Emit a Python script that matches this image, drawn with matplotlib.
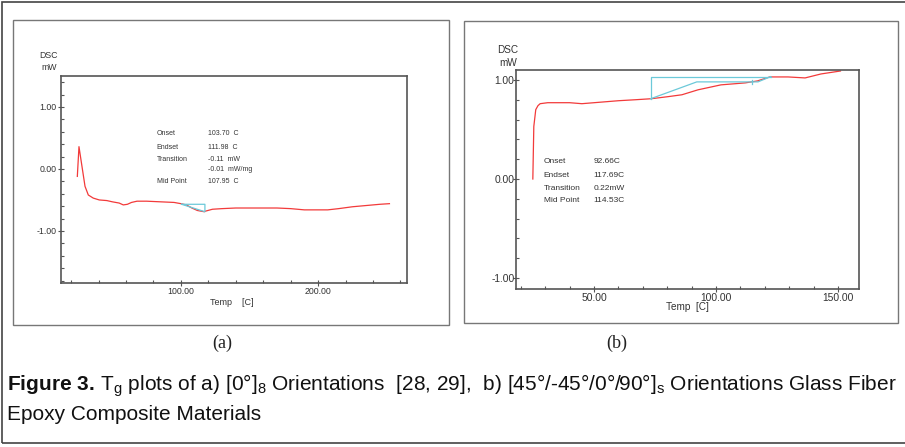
import matplotlib
matplotlib.use("Agg")
import matplotlib.pyplot as plt
from matplotlib import font_manager
from matplotlib.patches import Rectangle
from matplotlib.ticker import MultipleLocator, FixedLocator

# ---- data ----
# (a) [0]8 orientation
a_temp = [24.5, 25.7, 27.9, 30.1, 32.5, 36.1, 40.5, 46, 50, 55, 58, 61, 64, 68, 75, 85, 95,
          100, 104, 108, 112, 117, 118, 123, 130, 140, 150, 160, 170, 180, 190, 200, 207,
          215, 225, 235, 245, 252]
a_dsc = [-0.12, 0.36, 0.04, -0.28, -0.42, -0.47, -0.50, -0.51, -0.53, -0.55, -0.58, -0.57,
         -0.54, -0.52, -0.52, -0.53, -0.54, -0.56, -0.58, -0.63, -0.67, -0.69, -0.68, -0.65,
         -0.64, -0.63, -0.63, -0.63, -0.63, -0.64, -0.66, -0.66, -0.66, -0.64, -0.61, -0.59,
         -0.57, -0.56]
a_tan_temp = [100.5, 117.5, 117.5, 100.5]
a_tan_dsc = [-0.57, -0.57, -0.69, -0.57]
a_labels = ["Onset", "Endset", "Transition", "", "Mid Point"]
a_values = ["103.70  C", "111.98  C", "-0.11  mW", "-0.01  mW/mg", "107.95  C"]

# (b) [45/-45/0/90]s orientation
b_temp = [24.9, 25.3, 26.1, 27.0, 27.9, 31, 40, 45, 50, 60, 67, 73.4, 80, 86, 92.6, 102,
          112, 117, 122, 129.5, 136.5, 143, 151]
b_dsc = [0.0, 0.53, 0.70, 0.74, 0.76, 0.77, 0.77, 0.76, 0.77, 0.79, 0.80, 0.81, 0.83, 0.85,
         0.90, 0.95, 0.97, 0.99, 1.03, 1.03, 1.02, 1.06, 1.09]
b_box_temp = [73.2, 73.2, 122.4]
b_box_dsc = [0.81, 1.033, 1.033]
b_tan_temp = [73.2, 92.1, 117.2, 122.4]
b_tan_dsc = [0.81, 0.98, 0.98, 1.033]
b_mid_temp = [114.6, 114.6]
b_mid_dsc = [0.96, 1.0]
b_labels = ["Onset", "Endset", "Transition", "Mid Point"]
b_values = ["92.66C", "117.69C", "0.22mW", "114.53C"]

W, H = 905, 447
names = {f.name for f in font_manager.fontManager.ttflist}
cap_font = "Liberation Sans Narrow" if "Liberation Sans Narrow" in names else "Liberation Sans"

plt.rcParams["font.family"] = ["Liberation Sans", "DejaVu Sans"]
plt.rcParams["mathtext.fontset"] = "custom"
plt.rcParams["mathtext.rm"] = cap_font
plt.rcParams["mathtext.it"] = cap_font + ":italic"
plt.rcParams["mathtext.bf"] = cap_font + ":bold"

fig = plt.figure(figsize=(W / 100, H / 100), dpi=100)


def fx(x):
    return x / W


def fy(y):
    return 1 - y / H


def box(x0, y0, x1, y1, color, lw):
    fig.add_artist(Rectangle((fx(x0), fy(y1)), (x1 - x0) / W, (y1 - y0) / H, fill=False,
                             transform=fig.transFigure, ec=color, lw=lw))


box(2, 2, 912, 443, "#444444", 1.2)
box(13, 20, 449, 325, "#777777", 1.0)
box(464, 21, 898, 323, "#777777", 1.0)

RED = "#f23a3a"
CYAN = "#6cc9d9"
GRAY = "#555555"
TXT = "#333333"


def style_axes(ax, fs):
    for s in ax.spines.values():
        s.set_color(GRAY)
        s.set_linewidth(1.2)
    ax.tick_params(which="major", direction="inout", length=4, width=0.8, color=GRAY,
                   labelsize=fs, labelcolor=TXT, pad=1)
    ax.tick_params(which="minor", direction="in", length=2.5, width=0.8, color=GRAY)


# ---- panel (a) ----
axa = fig.add_axes([fx(61), fy(283), 346 / W, 207 / H])
axa.plot(a_temp, a_dsc, color=RED, lw=0.9)
axa.plot(a_tan_temp, a_tan_dsc, color=CYAN, lw=0.9)
axa.set_xlim(12.6, 264.8)
axa.set_ylim(-1.84, 1.5)
axa.xaxis.set_major_locator(FixedLocator([100, 200]))
axa.xaxis.set_minor_locator(MultipleLocator(20))
axa.yaxis.set_major_locator(FixedLocator([-1, 0, 1]))
axa.yaxis.set_minor_locator(MultipleLocator(0.2))
axa.xaxis.set_major_formatter(lambda v, p: f"{v:.2f}")
axa.yaxis.set_major_formatter(lambda v, p: f"{v:.2f}")
style_axes(axa, 6.3)
axa.text(-0.035, 1.097, "DSC", transform=axa.transAxes, ha="center", va="center",
         fontsize=6.3, color=TXT)
axa.text(-0.035, 1.039, "mW", transform=axa.transAxes, ha="center", va="center",
         fontsize=6.3, color=TXT)
axa.text(0.494, -0.092, "Temp    [C]", transform=axa.transAxes, ha="center", va="center",
         fontsize=6.5, color=TXT)
for i, (lab, val) in enumerate(zip(a_labels, a_values)):
    yy = [0.72, 0.657, 0.599, 0.546, 0.488][i]
    axa.text(0.277, yy, lab, transform=axa.transAxes, va="center", fontsize=5, color=TXT)
    axa.text(0.425, yy, val, transform=axa.transAxes, va="center", fontsize=5, color=TXT)

# ---- panel (b) ----
axb = fig.add_axes([fx(516), fy(289), 343 / W, 219 / H])
axb.plot(b_temp, b_dsc, color=RED, lw=0.9)
axb.plot(b_box_temp, b_box_dsc, color=CYAN, lw=0.9)
axb.plot(b_tan_temp, b_tan_dsc, color=CYAN, lw=0.9)
axb.plot(b_mid_temp, b_mid_dsc, color=CYAN, lw=0.9)
axb.set_xlim(18, 158.6)
axb.set_ylim(-1.11, 1.10)
axb.xaxis.set_major_locator(FixedLocator([50, 100, 150]))
axb.xaxis.set_minor_locator(MultipleLocator(10))
axb.yaxis.set_major_locator(FixedLocator([-1, 0, 1]))
axb.yaxis.set_minor_locator(MultipleLocator(0.2))
axb.xaxis.set_major_formatter(lambda v, p: f"{v:.2f}")
axb.yaxis.set_major_formatter(lambda v, p: f"{v:.2f}")
style_axes(axb, 7.4)
axb.tick_params(axis="y", which="major", pad=-1)
axb.text(-0.023, 1.091, "DSC", transform=axb.transAxes, ha="center", va="center",
         fontsize=7.2, color=TXT)
axb.text(-0.023, 1.032, "mW", transform=axb.transAxes, ha="center", va="center",
         fontsize=7.2, color=TXT)
axb.text(0.499, -0.082, "Temp  [C]", transform=axb.transAxes, ha="center", va="center",
         fontsize=7.2, color=TXT)
for i, (lab, val) in enumerate(zip(b_labels, b_values)):
    yy = [0.58, 0.52, 0.461, 0.402][i]
    axb.text(0.081, yy, lab, transform=axb.transAxes, va="center", fontsize=6, color=TXT)
    axb.text(0.2265, yy, val, transform=axb.transAxes, va="center", fontsize=6, color=TXT)

# ---- captions ----
fig.text(fx(222), fy(343), "(a)", ha="center", va="center", fontsize=13,
         family="Liberation Serif", color="#222222")
fig.text(fx(617), fy(343), "(b)", ha="center", va="center", fontsize=13,
         family="Liberation Serif", color="#222222")
line1 = (r"$\mathbf{Figure\ 3.}\,$T$_\mathrm{g}$ plots of a) [0°]$_\mathrm{8}$ Orientations  [28, 29],"
         r"  b) [45°/-45°/0°/90°]$_\mathrm{s}$ Orientations Glass Fiber")
fig.text(fx(7), fy(386), line1, ha="left", va="center", fontsize=15, family=cap_font,
         color="#111111")
fig.text(fx(7), fy(415), "Epoxy Composite Materials", ha="left", va="center", fontsize=15,
         family=cap_font, color="#111111")

fig.savefig("out.png", dpi=100, facecolor="white")
